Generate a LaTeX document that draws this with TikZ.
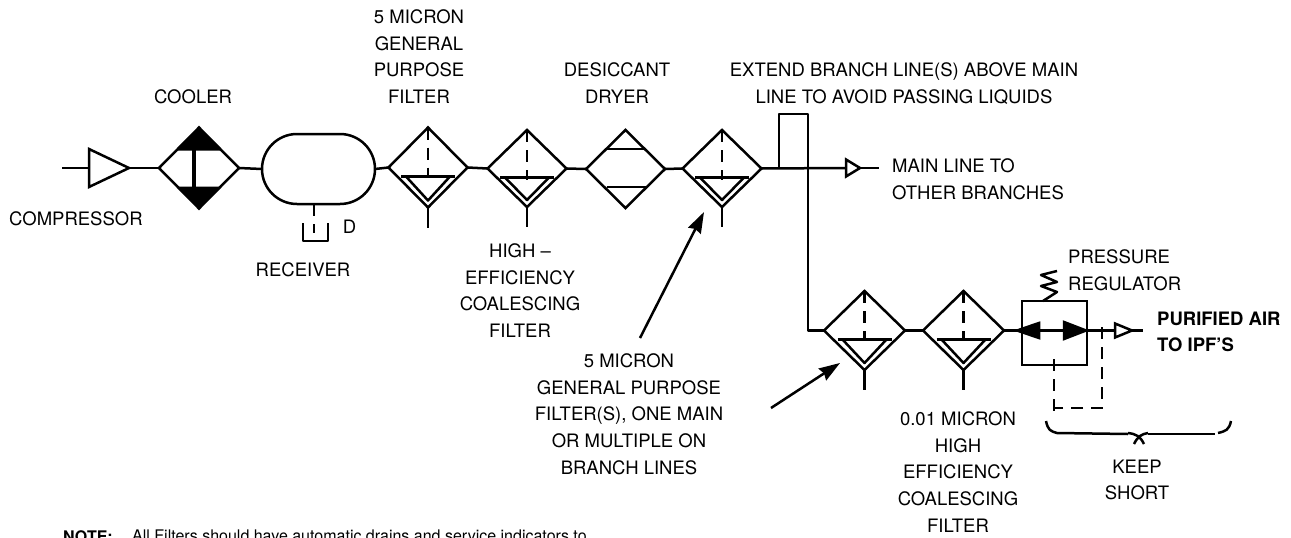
\documentclass[tikz,border=0pt]{standalone}
\usepackage{fontspec}
\setmainfont{TeX Gyre Heros}
\usetikzlibrary{shapes.geometric, shapes.misc, arrows.meta, positioning}

\newcommand{\filterparts}[1]{
  \draw[sense] (#1.north) -- ++(0,50);
  \draw[pipe] ([shift={(-27,9)}]#1.center) -- ++(54,0);
  \draw[pipe] ([shift={(-22,9)}]#1.center) -- ([yshift=7pt]#1.south) -- ([shift={(22,9)}]#1.center);
  \draw[pipe] (#1.south) -- ++(0,20);
}

\begin{document}
\begin{tikzpicture}[x=1pt, y=-1pt,
pipe/.style={line width=2.5pt, line join=round},
sense/.style={line width=2.5pt, dash pattern=on 12pt off 8pt},
filterbox/.style={diamond, draw, line width=2.5pt, inner sep=0pt, outer sep=0pt,
minimum width=79pt, minimum height=78pt},
tribox/.style={isosceles triangle, isosceles triangle stretches, draw, line width=2.5pt,
inner sep=0pt, outer sep=0pt, anchor=lower side},
label/.style={inner sep=0pt, font=\fontsize{18.5}{26.67}\selectfont, align=center, anchor=north},
leftlabel/.style={label, align=left, anchor=north west},
pointer/.style={-{Stealth[length=21pt,width=14pt,inset=2pt]}, line width=2.5pt}]

\useasboundingbox (0,0) rectangle (1291,538);

\coordinate (inlet) at (62,168);
\node[tribox, minimum width=38pt, minimum height=40pt] (compressor) at (89,168) {};
\node[filterbox, minimum width=80pt, minimum height=81pt] (cooler) at (199,168) {};
\node[rounded rectangle, draw, line width=2.5pt, inner sep=0pt, outer sep=0pt,
    minimum width=113pt, minimum height=70pt] (receiver) at (318.5,169) {};
\node[filterbox, minimum height=80pt] (filterA) at (428,167.5) {};
\node[filterbox, minimum height=77pt] (filterB) at (527,168.5) {};
\node[filterbox, minimum height=78pt] (dryer) at (625.5,169) {};
\node[filterbox, minimum height=77pt] (filterC) at (722,168.5) {};
\node[tribox, minimum width=17pt, minimum height=14pt] (mainvent) at (846,168) {};
\coordinate (mainend) at (879,168);

\node[filterbox, minimum width=81pt, minimum height=79pt] (filterD) at (864.5,330.5) {};
\node[filterbox, minimum width=81pt, minimum height=79pt] (filterE) at (963.5,330.5) {};
\node[rectangle, draw, line width=2.5pt, inner sep=0pt, outer sep=0pt,
    minimum width=65pt, minimum height=64pt] (regulator) at (1054.5,333) {};
\node[tribox, fill=black, minimum width=15pt, minimum height=22pt, shape border rotate=180] (regleft) at (1039,330.5) {};
\node[tribox, fill=black, minimum width=17pt, minimum height=22pt] (regright) at (1064,330.5) {};
\node[tribox, minimum width=14pt, minimum height=17pt] (outvent) at (1115,330.5) {};
\coordinate (outend) at (1143,330.5);

\coordinate (loopA) at (779,168);
\coordinate (loopB) at (779,114);
\coordinate (loopC) at (808,114);
\coordinate (branch) at (808,330.5);
\coordinate (senseA) at (1102,327);
\coordinate (senseB) at (1102,408);
\coordinate (senseC) at (1054,408);
\coordinate (senseD) at (1054,359);
\coordinate (senseE) at (1054,414);
\coordinate (springend) at (1043,301);

\draw[pipe] (inlet) -- (compressor.lower side);
\draw[pipe] (compressor.apex) -- (cooler.west);
\draw[pipe] (cooler.east) -- (receiver.west);
\draw[pipe] (receiver.east) -- (filterA.west);
\draw[pipe] (filterA.east) -- (filterB.west);
\draw[pipe] (filterB.east) -- (dryer.west);
\draw[pipe] (dryer.east) -- (filterC.west);
\draw[pipe] (filterC.east) -- (mainvent.lower side);
\draw[pipe] (mainvent.apex) -- (mainend);
\draw[pipe] (loopA) -- (loopB) -- (loopC) -- (branch) -- (filterD.west);
\draw[pipe] (filterD.east) -- (filterE.west);
\draw[pipe] (filterE.east) -- (regleft.apex);
\draw[pipe] (regleft.lower side) -- (regright.lower side);
\draw[pipe] (regright.apex) -- (outvent.lower side);
\draw[pipe] (outvent.apex) -- (outend);
\draw[sense] (senseA) -- (senseB) -- (senseC);
\draw[sense] (senseD) -- (senseE);

\fill (cooler.north) -- ++(-23,23) -- ++(46,0) -- cycle;
\fill (cooler.south) -- ++(-22,-22) -- ++(44,0) -- cycle;
\draw[line width=4.5pt] (194,133) -- (194,197);

\draw[sense] (314,204) -- (314,233);
\draw[pipe] (303,223) -- (303,241) -- (328,241) -- (328,223);

\filterparts{filterA}
\filterparts{filterB}
\filterparts{filterC}
\filterparts{filterD}
\filterparts{filterE}

\draw[pipe] ([shift={(-19,19)}]dryer.north) -- ++(39,0);
\draw[pipe] ([shift={(-19,-21)}]dryer.south) -- ++(39,0);

\draw[pipe] (1057,271) -- (1041,275) -- (1057,282) -- (1041,286) -- (1057,292) -- (springend);

\draw[pipe] (1046,421) .. controls (1048,430) and (1050,431) .. (1057,433) -- (1128,434);
\draw[pipe] (1128,433) .. controls (1136,434) and (1140,436) .. (1144,444);
\draw[pipe] (1148,433) .. controls (1142,434) and (1138,436) .. (1134,444);
\draw[pipe] (1148,434) -- (1215,434);
\draw[pipe] (1218,433) .. controls (1226,431) and (1229,430) .. (1231,421);

\coordinate (tailC) at (640,338);
\coordinate (tipC) at (704,212);
\coordinate (tailD) at (771,408);
\coordinate (tipD) at (840,363);
\draw[pointer] (tailC) -- (tipC);
\draw[pointer] (tailD) -- (tipD);

\node[leftlabel] (compressortext) at (9,211.5) {COMPRESSOR};
\node[label] (coolertext) at (193,89.5) {COOLER};
\node[label] (receivertext) at (303,262.5) {RECEIVER};
\node[label] (drainD) at (349.5,219.5) {D};
\node[label] (filterAtext) at (419,9.5) {5 MICRON\\GENERAL\\PURPOSE\\FILTER};
\node[label] (filterBtext) at (520,243.5) {HIGH --\\EFFICIENCY\\COALESCING\\FILTER};
\node[label] (dryertext) at (617,62.5) {DESICCANT\\DRYER};
\node[label] (extendtext) at (904,62.5) {EXTEND BRANCH LINE(S) ABOVE MAIN\\LINE TO AVOID PASSING LIQUIDS};
\node[leftlabel] (mainlinetext) at (892,158.5) {MAIN LINE TO\\OTHER BRANCHES};
\node[label] (filterCtext) at (629,353.5) {5 MICRON\\GENERAL PURPOSE\\FILTER(S), ONE MAIN\\OR MULTIPLE ON\\BRANCH LINES};
\node[label] (filterEtext) at (958,411.5) {0.01 MICRON\\HIGH\\EFFICIENCY\\COALESCING\\FILTER};
\node[leftlabel] (regulatortext) at (1068,249.5) {PRESSURE\\REGULATOR};
\node[leftlabel, font=\fontsize{18.5}{26.67}\selectfont\bfseries] (purifiedtext) at (1157,311.5) {PURIFIED AIR\\TO IPF'S};
\node[label] (keeptext) at (1137,459.5) {KEEP\\SHORT};
\node[leftlabel, font=\fontsize{16}{20}\selectfont] (notetext) at (132,530) {All Filters should have automatic drains and service indicators to};
\node[inner sep=0pt, anchor=north east, font=\fontsize{16}{20}\selectfont\bfseries] (notelabel) at (113,530) {NOTE:};
\end{tikzpicture}
\end{document}
